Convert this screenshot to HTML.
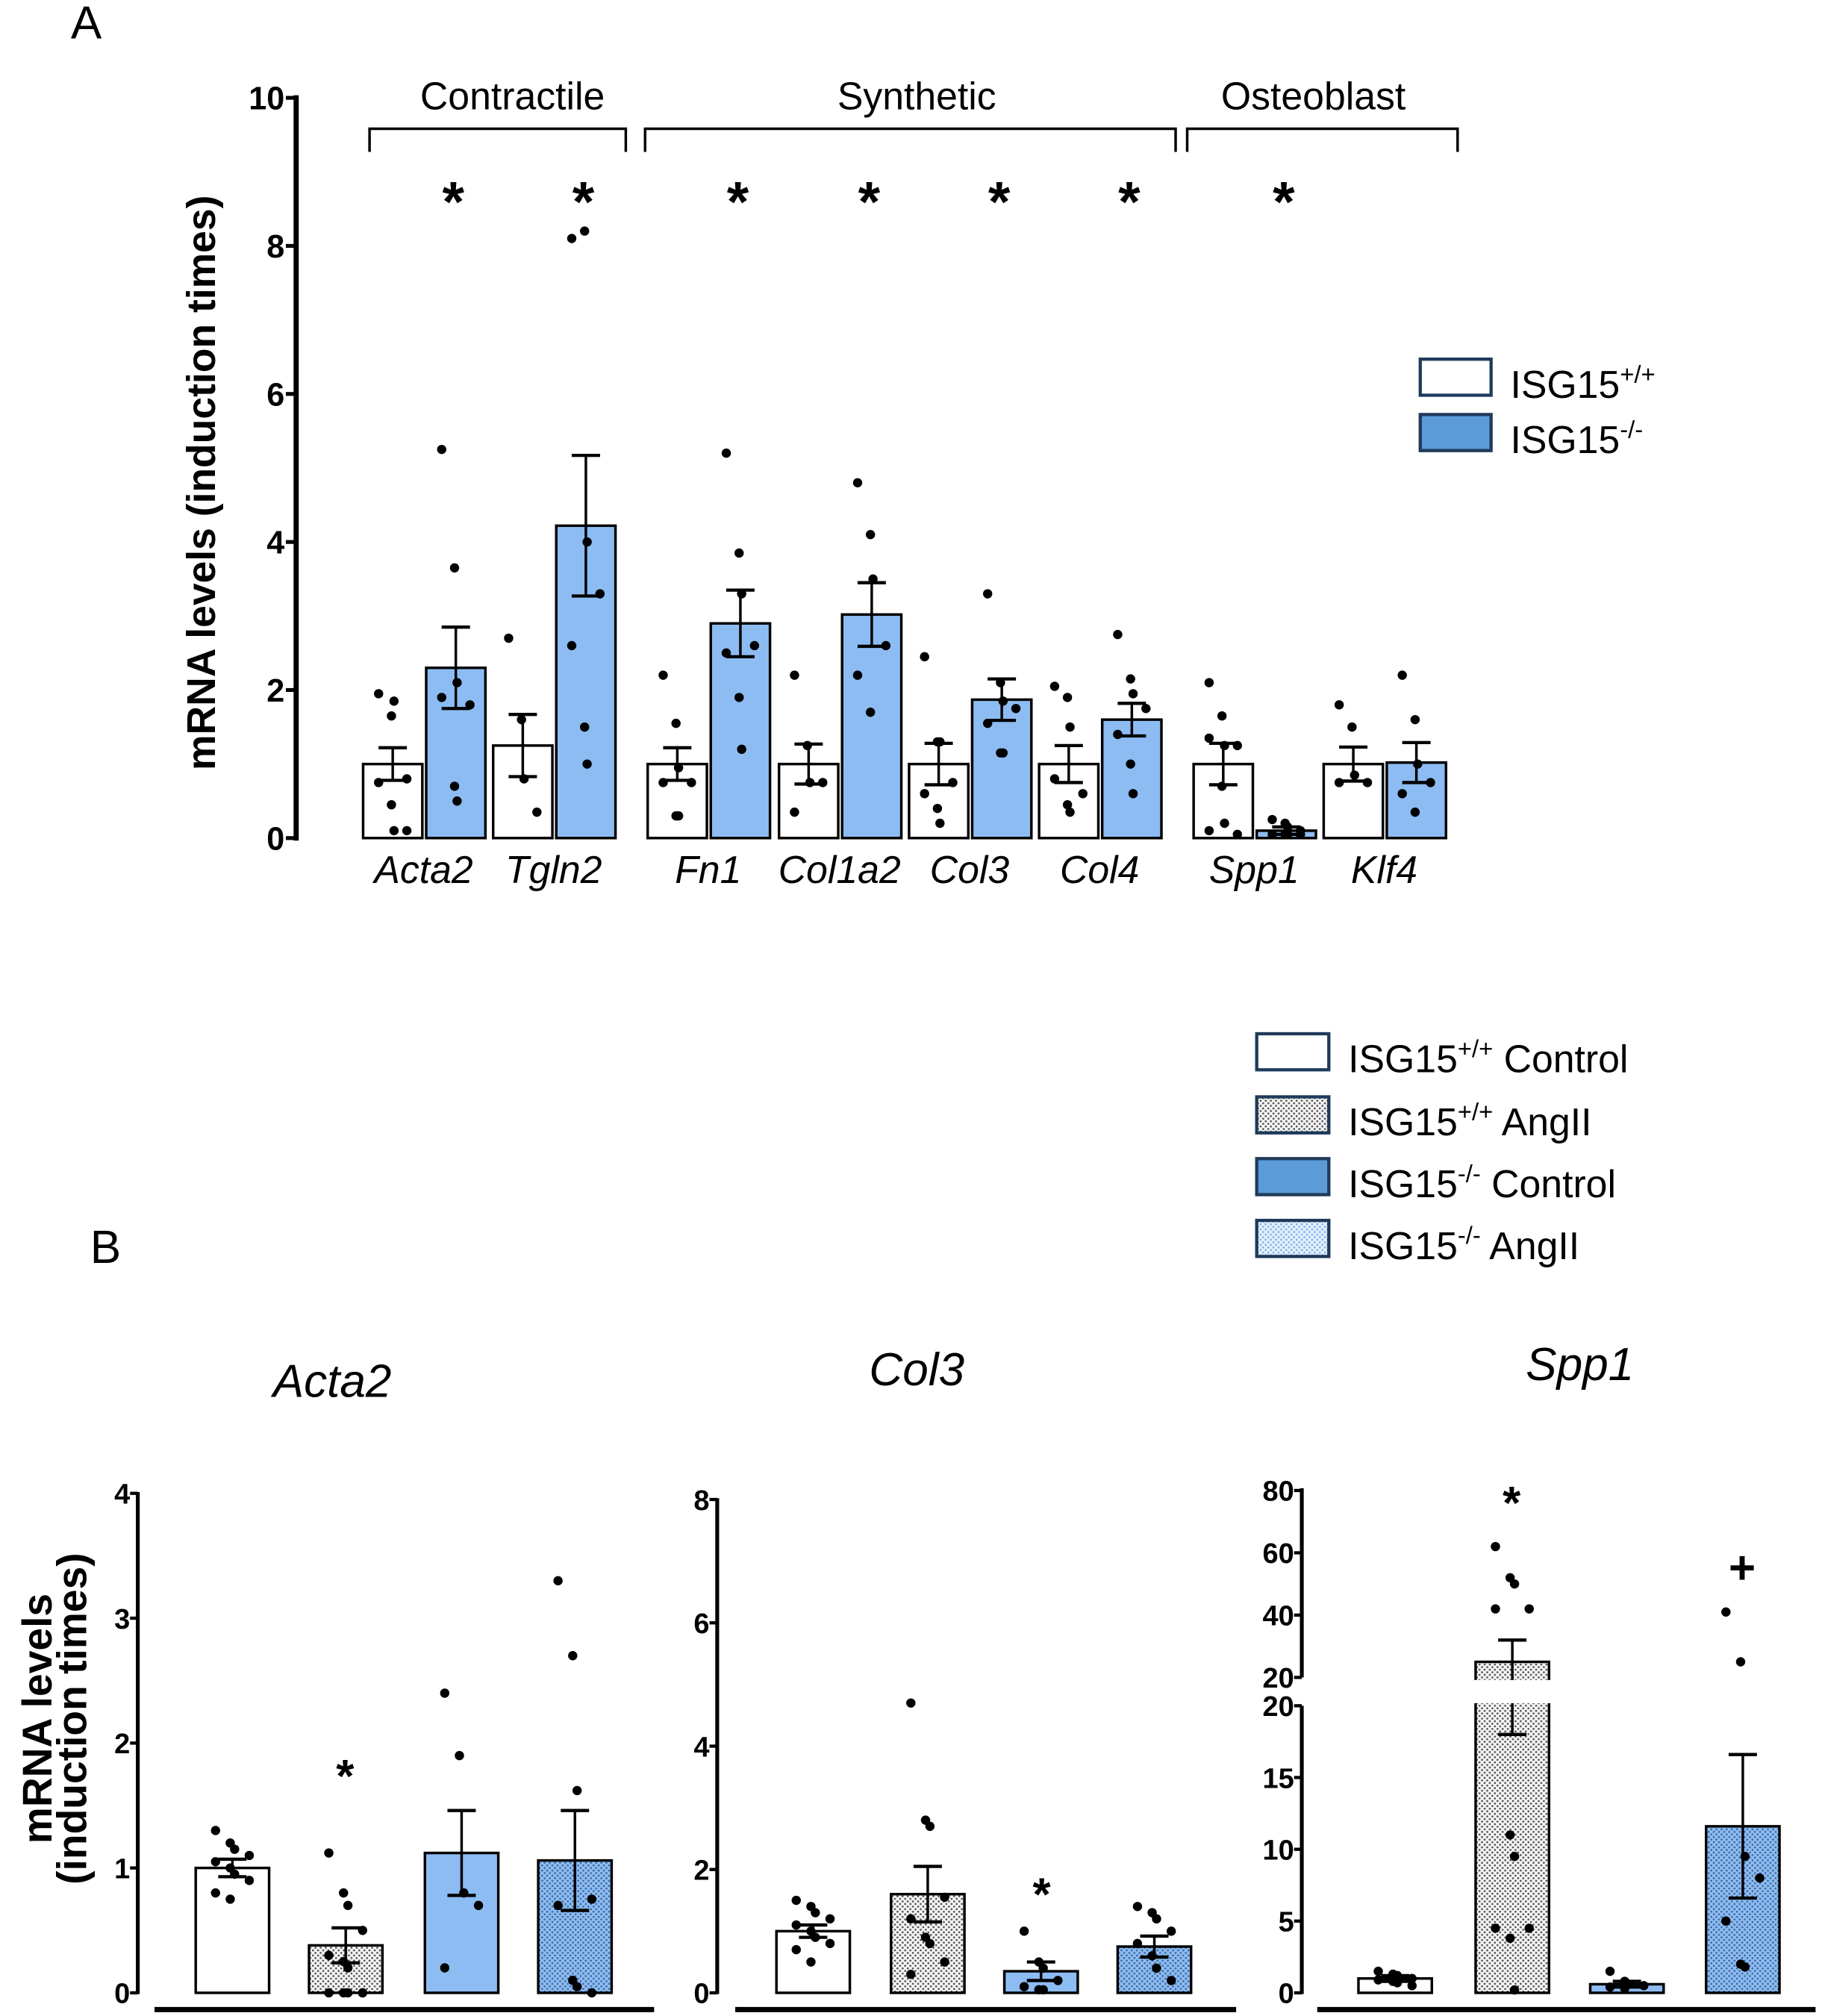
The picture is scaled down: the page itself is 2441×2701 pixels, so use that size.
<!DOCTYPE html>
<html><head><meta charset="utf-8"><style>
html,body{margin:0;padding:0;background:#fff;}
svg{display:block;}
text{font-family:"Liberation Sans",Arial,sans-serif;}
</style></head><body>
<svg id="fig" width="2441" height="2701" viewBox="0 0 1415 1566" preserveAspectRatio="none" xmlns="http://www.w3.org/2000/svg">
<defs>
<pattern id="dotGray" width="4" height="4" patternUnits="userSpaceOnUse"><rect width="4" height="4" fill="#f4f4f4"/><circle cx="1" cy="1" r="0.8" fill="#555"/><circle cx="3" cy="3" r="0.8" fill="#555"/></pattern>
<pattern id="dotBlue" width="4" height="4" patternUnits="userSpaceOnUse"><rect width="4" height="4" fill="#8fbcef"/><circle cx="1" cy="1" r="0.8" fill="#3a6aa8"/><circle cx="3" cy="3" r="0.8" fill="#3a6aa8"/></pattern>
<pattern id="dotBlueLeg" width="4" height="4" patternUnits="userSpaceOnUse"><rect width="4" height="4" fill="#e3effb"/><circle cx="1" cy="1" r="0.8" fill="#7fb0e6"/><circle cx="3" cy="3" r="0.8" fill="#7fb0e6"/></pattern>
</defs>
<text x="55" y="30" font-size="36">A</text>
<text x="70" y="981" font-size="36">B</text>
<g id="gA"></g>
<g id="gB"></g>
</svg>
<script>
// ---------- Panel A data ----------
const genesA = ["Acta2","Tgln2","Fn1","Col1a2","Col3","Col4","Spp1","Klf4"];
const wtMeanA = [1.0,1.25,1.0,1.0,1.0,1.0,1.0,1.0];
const wtSemA = [0.22,0.42,0.22,0.27,0.28,0.25,0.28,0.23];
const koMeanA = [2.3,4.22,2.9,3.02,1.87,1.6,0.1,1.02];
const koSemA = [0.55,0.95,0.45,0.43,0.28,0.22,0.05,0.27];
const wtPtsA = [[1.95,1.65,1.85,0.8,0.75,0.45,0.1,0.1],[2.7,1.6,0.8,0.35],[2.2,1.55,0.95,0.75,0.75,0.3,0.3],[2.2,1.25,0.75,0.75,0.35],[2.45,1.3,1.3,0.75,0.6,0.4,0.2],[2.05,1.9,1.5,0.6,0.8,0.45,0.35],[2.1,1.65,1.25,1.25,1.35,0.7,0.2,0.05,0.1],[1.8,1.5,0.85,0.75,0.75]];
const koPtsA = [[5.25,3.65,2.1,1.8,1.9,0.7,0.5],[8.1,8.2,4.0,3.3,2.6,1.5,1.0],[5.2,3.85,3.3,2.6,2.5,1.9,1.2],[4.8,4.1,3.5,2.6,2.2,1.7],[3.3,2.1,1.85,1.75,1.55,1.15,1.15],[2.75,2.15,1.95,1.75,1.4,1.0,0.6],[0.25,0.2,0.15,0.1,0.05,0.05,0.05,0.05],[2.2,1.6,1.0,0.75,0.6,0.35]];
const sigA = [true,true,true,true,true,true,true,false];
const ticksA = [0,2,4,6,8,10];
const groupsA = ["Contractile","Synthetic","Osteoblast"];

// ---------- Panel B data ----------
const condB = ["ISG15+/+ Control","ISG15+/+ AngII","ISG15-/- Control","ISG15-/- AngII"];
const acta2Mean = [1.0,0.38,1.12,1.06];
const acta2Sem = [0.07,0.14,0.34,0.4];
const acta2Pts = [[1.3,1.2,1.15,1.1,1.05,1.0,0.95,0.9,0.8,0.75],[1.12,0.8,0.7,0.5,0.3,0.25,0.2,0,0,0,0,0],[2.4,1.9,0.8,0.7,0.2],[3.3,2.7,1.62,0.75,0.7,0.1,0.05,0]];
const acta2Ticks = [0,1,2,3,4];
const col3Mean = [1.0,1.6,0.35,0.75];
const col3Sem = [0.1,0.45,0.15,0.17];
const col3Pts = [[1.5,1.4,1.3,1.2,1.1,1.0,0.9,0.8,0.7,0.5],[4.7,2.8,2.7,1.55,1.2,0.9,0.8,0.5,0.3],[1.0,0.5,0.4,0.2,0.1,0.05,0.05],[1.4,1.3,1.2,1.0,0.8,0.6,0.4,0.2]];
const col3Ticks = [0,2,4,6,8];
const spp1Mean = [1.0,25,0.6,11.6];
const spp1Sem = [0.2,7,0.2,5];
const spp1Pts = [[1.5,1.3,1.2,1.0,0.9,0.8,0.7,0.5],[62,52,50,42,42,11,9.5,4.5,4.5,3.8,0.2],[1.5,0.8,0.6,0.5,0.4,0.3],[41,25,9.5,8,5,2,1.8]];
const spp1TicksLow = [0,5,10,15,20];
const spp1TicksHigh = [20,40,60,80];

const NS="http://www.w3.org/2000/svg";
function mk(parent,tag,attrs,text){const e=document.createElementNS(NS,tag);for(const k in attrs)e.setAttribute(k,attrs[k]);if(text!==undefined)e.textContent=text;parent.appendChild(e);return e;}

// ---------- draw A ----------
const gA=document.getElementById('gA');
const yA=v=>651-v*57.5;
const axA=230;
let e=mk(gA,'line',{x1:axA,y1:yA(0)+2,x2:axA,y2:yA(10)-2,stroke:'#000','stroke-width':4});


ticksA.forEach(t=>{
  mk(gA,'line',{x1:axA-8,y1:yA(t),x2:axA,y2:yA(t),stroke:'#000','stroke-width':3});
  const tx=mk(gA,'text',{x:axA-9,y:yA(t)+9,'font-size':25,'font-weight':'bold','text-anchor':'end'},String(t));
  
  
});
e=mk(gA,'text',{transform:'translate(167,375) rotate(-90)','font-size':31,'font-weight':'bold','text-anchor':'middle'},'mRNA levels (induction times)');


const barStartA=[282,383,503,605,706,807,927,1028];
const bw=46;
function drawBar(g,x,w,mean,sem,pts,yf,fill,stroke){
  const b=mk(g,'rect',{x:x,y:yf(mean),width:w,height:yf(0)-yf(mean),fill:fill,stroke:stroke||'#000','stroke-width':2});
  
  
  const cx=x+w/2;
  mk(g,'line',{x1:cx,y1:yf(mean+sem),x2:cx,y2:yf(Math.max(0,mean-sem)),stroke:'#000','stroke-width':2});
  mk(g,'line',{x1:cx-11,y1:yf(mean+sem),x2:cx+11,y2:yf(mean+sem),stroke:'#000','stroke-width':2.5});
  mk(g,'line',{x1:cx-11,y1:yf(Math.max(0,mean-sem)),x2:cx+11,y2:yf(Math.max(0,mean-sem)),stroke:'#000','stroke-width':2.5});
  const n=pts.length;
  pts.forEach((v,i)=>{
    const off=n>1?((i%4)-1.5)*(w*0.13)+((i%2)?2:-2):0;
    const p=mk(g,'circle',{cx:cx+off,cy:yf(v),r:3.6,fill:'#000'});
    
    
  });
}
genesA.forEach((gname,i)=>{
  const x=barStartA[i];
  drawBar(gA,x,bw,wtMeanA[i],wtSemA[i],wtPtsA[i],yA,'#fff');
  drawBar(gA,x+49,bw,koMeanA[i],koSemA[i],koPtsA[i],yA,'#8dbcf2');
  const t=mk(gA,'text',{x:x+47,y:686,'font-size':30,'font-style':'italic','text-anchor':'middle'},gname);
  
  
  if(sigA[i]){
    const s=mk(gA,'text',{x:x+49+bw/2-2,y:172,'font-size':44,'font-weight':'bold','text-anchor':'middle'},'*');
    
    
  }
});
const brX=[[287,486],[501,913],[922,1132]];
const grX=[398,712,1020];
groupsA.forEach((g,i)=>{
  const br=mk(gA,'polyline',{points:`${brX[i][0]},118 ${brX[i][0]},100 ${brX[i][1]},100 ${brX[i][1]},118`,fill:'none',stroke:'#000','stroke-width':2});
  
  
  const t=mk(gA,'text',{x:grX[i],y:85,'font-size':30,'text-anchor':'middle'},g);
  
  
});
// legend A
e=mk(gA,'rect',{x:1103,y:279,width:55,height:28,fill:'#fff',stroke:'#1f3a5a','stroke-width':2.5});


e=mk(gA,'rect',{x:1103,y:322,width:55,height:28,fill:'#5b9bd8',stroke:'#1f3a5a','stroke-width':2.5});


function legText(g,x,y,sup,rest,name){
  const t=mk(g,'text',{x:x,y:y,'font-size':30});
  
  
  mk(t,'tspan',{},'ISG15');
  mk(t,'tspan',{'font-size':19,dy:-12},sup);
  if(rest) mk(t,'tspan',{dy:12},' '+rest);
}
legText(gA,1173,309,'+/+','', 'legend-entry-wt');
legText(gA,1173,352,'-/-','', 'legend-entry-ko');

// ---------- draw B ----------
const gB=document.getElementById('gB');
const legY=[803,852,900,948];
const legFill=['#fff','url(#dotGray)','#5b9bd8','url(#dotBlueLeg)'];
const legSup=['+/+','+/+','-/-','-/-'];
const legRest=['Control','AngII','Control','AngII'];
condB.forEach((c,i)=>{
  const r=mk(gB,'rect',{x:976,y:legY[i],width:56,height:28,fill:legFill[i],stroke:'#1f3a5a','stroke-width':2.5});
  
  
  legText(gB,1047,legY[i]+30,legSup[i],legRest[i],'legend-entry');
});
const fillB=['#fff','url(#dotGray)','#8dbcf2','url(#dotBlue)'];
function panelB(name,title,titleX,titleY,axX,yf,ticks,means,sems,pts,barXs,baseX1,baseX2){
  const g=mk(gB,'g',{});
  
  
  const t=mk(g,'text',{x:titleX,y:titleY,'font-size':36,'font-style':'italic','text-anchor':'middle'},title);
  
  
  const a=mk(g,'line',{x1:axX,y1:yf(0)+1,x2:axX,y2:yf(ticks[ticks.length-1])-1,stroke:'#000','stroke-width':3});
  
  
  ticks.forEach(tk=>{
    mk(g,'line',{x1:axX-6,y1:yf(tk),x2:axX,y2:yf(tk),stroke:'#000','stroke-width':2.5});
    const l=mk(g,'text',{x:axX-6,y:yf(tk)+8,'font-size':22,'font-weight':'bold','text-anchor':'end'},String(tk));
    
    
  });
  means.forEach((m,i)=>drawBar(g,barXs[i],57,m,sems[i],pts[i],yf,fillB[i]));
  const bl=mk(g,'line',{x1:baseX1,y1:1561,x2:baseX2,y2:1561,stroke:'#000','stroke-width':4});
  
  
  return g;
}
const yActa=v=>1548-v*97;
const gAc=panelB('acta2-chart','Acta2',258,1085,107,yActa,acta2Ticks,acta2Mean,acta2Sem,acta2Pts,[152,240,330,418],120,508);
e=mk(gAc,'text',{x:268,y:1392,'font-size':36,'font-weight':'bold','text-anchor':'middle'},'*');


e=mk(gB,'text',{transform:'translate(40,1335) rotate(-90)','font-size':32,'font-weight':'bold','text-anchor':'middle'},'mRNA levels');


e=mk(gB,'text',{transform:'translate(67,1335) rotate(-90)','font-size':32,'font-weight':'bold','text-anchor':'middle'},'(induction times)');



const yCol=v=>1548-v*47.9;
const gCo=panelB('col3-chart','Col3',712,1076,557,yCol,col3Ticks,col3Mean,col3Sem,col3Pts,[603,692,780,868],571,960);
e=mk(gCo,'text',{x:809,y:1484,'font-size':36,'font-weight':'bold','text-anchor':'middle'},'*');



// Spp1 broken axis
const ySpp=v=> v<=20 ? 1548-v*11.15 : 1303-(v-20)*2.42;
const gSp=mk(gB,'g',{});


e=mk(gSp,'text',{x:1227,y:1072,'font-size':36,'font-style':'italic','text-anchor':'middle'},'Spp1');


e=mk(gSp,'line',{x1:1011,y1:1549,x2:1011,y2:1325,stroke:'#000','stroke-width':3});


e=mk(gSp,'line',{x1:1011,y1:1303,x2:1011,y2:1156,stroke:'#000','stroke-width':3});


spp1TicksLow.forEach(tk=>{
  const y=1548-tk*11.15;
  mk(gSp,'line',{x1:1005,y1:y,x2:1011,y2:y,stroke:'#000','stroke-width':2.5});
  const l=mk(gSp,'text',{x:1005,y:y+8,'font-size':22,'font-weight':'bold','text-anchor':'end'},String(tk));
  
  
});
spp1TicksHigh.forEach(tk=>{
  const y=1303-(tk-20)*2.42;
  mk(gSp,'line',{x1:1005,y1:y,x2:1011,y2:y,stroke:'#000','stroke-width':2.5});
  const l=mk(gSp,'text',{x:1005,y:y+8,'font-size':22,'font-weight':'bold','text-anchor':'end'},String(tk));
  
  
});
const sppX=[1055,1146,1235,1325];
spp1Mean.forEach((m,i)=>drawBar(gSp,sppX[i],57,m,spp1Sem[i],spp1Pts[i],ySpp,fillB[i]));
// axis break gap
e=mk(gSp,'rect',{x:1013,y:1305,width:400,height:18,fill:'#fff'});


e=mk(gSp,'line',{x1:1023,y1:1561,x2:1410,y2:1561,stroke:'#000','stroke-width':4});


e=mk(gSp,'text',{x:1174,y:1180,'font-size':36,'font-weight':'bold','text-anchor':'middle'},'*');


e=mk(gSp,'text',{x:1353,y:1230,'font-size':36,'font-weight':'bold','text-anchor':'middle'},'+');


</script>
</body></html>
